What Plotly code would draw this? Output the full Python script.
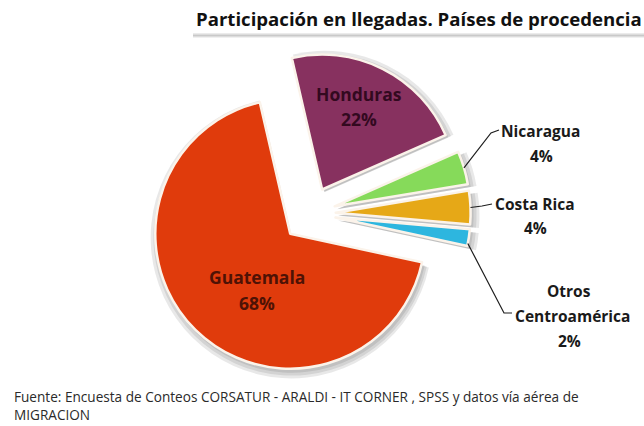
import math
import plotly.graph_objects as go

# Participation in arrivals by country of origin (percent)
paises = ["Honduras", "Nicaragua", "Costa Rica", "Otros Centroamérica", "Guatemala"]
participacion = [22, 4, 4, 2, 68]
nombres_etiqueta = [["Honduras"], ["Nicaragua"], ["Costa Rica"], ["Otros", "Centroamérica"], ["Guatemala"]]

colores = ["#87315F", "#86DA5A", "#E6A817", "#2DB6DF", "#E03B0C"]
separacion = [0.20, 0.19, 0.19, 0.19, 0.21]

titulo = "Participación en llegadas. Países de procedencia"
fuente = ("Fuente: Encuesta de Conteos CORSATUR - ARALDI - IT CORNER , SPSS y datos vía aérea de"
          "<br>MIGRACION")

W, H = 644, 426
dom_x = [0.228, 0.735]
dom_y = [0.115, 0.882]
giro = -13
FONT = "Open Sans"

fig = go.Figure()

# soft drop shadow built from a few translucent copies of the pie
for dx, dy, grow in [(2, 3, 7), (2, 3, 4), (2, 3, 1)]:
    sx = [(dom_x[0] * W + dx - grow) / W, (dom_x[1] * W + dx + grow) / W]
    sy = [(dom_y[0] * H - dy - grow) / H, (dom_y[1] * H - dy + grow) / H]
    fig.add_trace(go.Pie(
        labels=paises, values=participacion, sort=False, direction="clockwise",
        rotation=giro, pull=separacion, textinfo="none", hoverinfo="skip",
        marker=dict(colors=["rgba(0,0,0,0.09)"] * len(paises), line=dict(width=0)),
        domain=dict(x=sx, y=sy), showlegend=False,
    ))

fig.add_trace(go.Pie(
    labels=paises, values=participacion, sort=False, direction="clockwise",
    rotation=giro, pull=separacion, textinfo="none", hoverinfo="label+percent",
    marker=dict(colors=colores, line=dict(color="#FBF3EA", width=2.5)),
    domain=dict(x=dom_x, y=dom_y), showlegend=False,
))

# pie geometry (same rules plotly uses) to attach leader lines to slices
box_w = W * (dom_x[1] - dom_x[0])
box_h = H * (dom_y[1] - dom_y[0])
radio = min(box_w, box_h) / 2 / (1 + max(separacion))
cx = W * (dom_x[0] + dom_x[1]) / 2
cy = H * (1 - dom_y[0]) - box_h / 2
total = sum(participacion)


def punto_borde(i, frac):
    ini = giro + 360 * sum(participacion[:i]) / total
    span = 360 * participacion[i] / total
    mid = math.radians(ini + span / 2)
    ang = math.radians(ini + span * frac)
    px = cx + separacion[i] * radio * math.sin(mid) + radio * math.sin(ang)
    py = cy - separacion[i] * radio * math.cos(mid) - radio * math.cos(ang)
    return px, py


def to_paper(x, y):
    return x / W, 1 - y / H


# label placement: pixel centre of each text line, font size, colour
pos_etiqueta = {
    "Honduras": ([(359, 94), (359, 119)], 17.5, "#33091F"),
    "Nicaragua": ([(540, 131), (541, 156)], 15.5, "#1A1A1A"),
    "Costa Rica": ([(535, 204), (535, 228)], 15.5, "#1A1A1A"),
    "Otros Centroamérica": ([(569, 291), (572, 316), (569, 341)], 15.5, "#1A1A1A"),
    "Guatemala": ([(257, 277), (257, 303)], 17.5, "#4E1205"),
}

for i, pais in enumerate(paises):
    posiciones, tam, col = pos_etiqueta[pais]
    lineas = nombres_etiqueta[i] + [f"{participacion[i]}%"]
    for (x0, y0), txt in zip(posiciones, lineas):
        xp, yp = to_paper(x0, y0)
        fig.add_annotation(x=xp, y=yp, xref="paper", yref="paper", text=f"<b>{txt}</b>",
                           showarrow=False, xanchor="center", yanchor="middle",
                           font=dict(family=FONT, size=tam, color=col))

# leader lines: slice edge -> elbow -> label
guias = {
    "Nicaragua": (0.5, (491, 133), (499, 130)),
    "Costa Rica": (0.5, (482, 206), (492, 204)),
    "Otros Centroamérica": (0.85, (504, 313), (512, 313)),
}
for pais, (frac, codo, fin) in guias.items():
    i = paises.index(pais)
    a = to_paper(*punto_borde(i, frac))
    b = to_paper(*codo)
    c = to_paper(*fin)
    fig.add_shape(type="path", xref="paper", yref="paper",
                  path=f"M {a[0]} {a[1]} L {b[0]} {b[1]} L {c[0]} {c[1]}",
                  line=dict(color="#1E1E1E", width=1.2))

# title with a soft shadow under its box
for y_top, alpha in [(33, 0.10), (34, 0.18), (35, 0.28), (36, 0.18), (37, 0.08)]:
    p0 = to_paper(193, y_top)
    p1 = to_paper(644, y_top + 1)
    fig.add_shape(type="rect", xref="paper", yref="paper", x0=p0[0], x1=p1[0], y0=p1[1], y1=p0[1],
                  fillcolor=f"rgba(60,60,60,{alpha})", line=dict(width=0))

tx, ty = to_paper(419, 19)
fig.add_annotation(x=tx, y=ty, xref="paper", yref="paper", text=f"<b>{titulo}</b>",
                   showarrow=False, xanchor="center", yanchor="middle",
                   font=dict(family=FONT, size=18.6, color="#111111"))

fx, fy = to_paper(12, 385)
fig.add_annotation(x=fx, y=fy, xref="paper", yref="paper", text=fuente, align="left",
                   showarrow=False, xanchor="left", yanchor="top",
                   font=dict(family=FONT, size=13.6, color="#2A2A2A"))

fig.update_layout(width=W, height=H, margin=dict(l=0, r=0, t=0, b=0),
                  paper_bgcolor="white", plot_bgcolor="white")

fig.write_html("out.html")
